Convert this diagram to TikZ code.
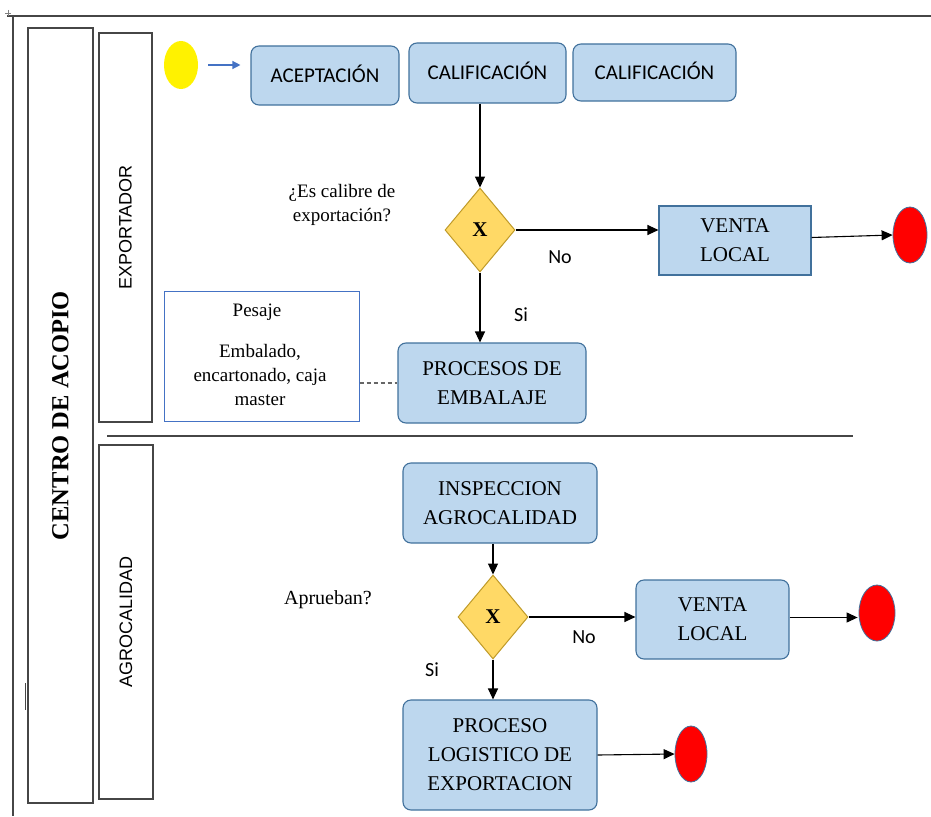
\documentclass[tikz,border=0pt]{standalone}
\usepackage{fontspec}
\setmainfont{Liberation Serif}
\newfontfamily\calibrifont{Carlito}
\newfontfamily\arialfont{Liberation Sans}
\usetikzlibrary{shapes.geometric,arrows.meta}
\definecolor{boxfill}{RGB}{189,215,238}
\definecolor{boxline}{RGB}{65,113,156}
\definecolor{dfill}{RGB}{255,217,102}
\definecolor{dline}{RGB}{191,154,40}
\definecolor{notel}{RGB}{68,114,196}
\definecolor{framel}{RGB}{70,70,70}
\tikzset{
  x={(1pt,0)}, y={(0,-1pt)},
  lane/.style={draw=framel, line width=1.2pt, rotate=90, inner sep=0pt, align=center},
  proc/.style={draw=boxline, fill=boxfill, line width=1.1pt, rounded corners=8pt, align=center, inner sep=0pt},
  plain/.style={draw=boxline, fill=boxfill, line width=1.1pt, align=center, inner sep=0pt},
  gate/.style={diamond, draw=dline, fill=dfill, line width=1pt, inner sep=0pt, font=\fontsize{21}{22}\selectfont\bfseries},
  endev/.style={ellipse, draw=boxline, fill=red, line width=0.8pt, inner sep=0pt},
  flow/.style={draw=black, line width=1.1pt, -{Triangle[length=11pt,width=10pt]}},
  serifbig/.style={font=\fontsize{21}{29}\selectfont},
  serifmid/.style={font=\fontsize{19}{24}\selectfont, align=center},
  sansbox/.style={font=\calibrifont\fontsize{21}{24}\selectfont},
  sanslbl/.style={font=\calibrifont\fontsize{20}{22}\selectfont},
}
\begin{document}
\begin{tikzpicture}
\useasboundingbox (0,0) rectangle (931,816);
% page frame lines
\draw[framel, line width=1.5pt] (7,16) -- (931,16);
\draw[framel, line width=1.2pt] (13,16) -- (13,816);
\draw[gray, line width=0.6pt] (8,10) -- (8,16) (5,13) -- (11,13);
\draw[framel, line width=1pt] (25,683) -- (25,710);
% lanes
\node[lane, minimum width=775pt, minimum height=65pt, font=\fontsize{24.5}{26}\selectfont\bfseries] (centro) at (60.5,415.5) {CENTRO DE ACOPIO};
\node[lane, minimum width=389pt, minimum height=53pt, font=\arialfont\fontsize{18}{20}\selectfont] (expo) at (125.5,227.5) {EXPORTADOR};
\node[lane, minimum width=354pt, minimum height=54pt, font=\arialfont\fontsize{18}{20}\selectfont] (agro) at (126,622) {AGROCALIDAD};
\draw[framel, line width=1.2pt] (107,436) -- (853,436);
% top row
\node[ellipse, fill=yellow, minimum width=34pt, minimum height=48pt, inner sep=0pt] (start) at (181,65) {};
\node[proc, sansbox, minimum width=148pt, minimum height=59pt] (acept) at (325,75.5) {\raisebox{3pt}{ACEPTACIÓN}};
\node[proc, sansbox, minimum width=157pt, minimum height=60pt] (calif1) at (487.5,73) {\raisebox{5pt}{CALIFICACIÓN}};
\node[proc, sansbox, minimum width=163pt, minimum height=57pt] (calif2) at (654.5,72.5) {\raisebox{4pt}{CALIFICACIÓN}};
% exportador lane
\node[serifmid] (q1) at (342,205) {¿Es calibre de\\exportación?};
\node[gate, minimum width=70pt, minimum height=84pt] (d1) at (480,230) {X};
\node[plain, serifbig, minimum width=152pt, minimum height=69pt] (vl1) at (735,240.5) {VENTA\\LOCAL};
\node[endev, minimum width=34pt, minimum height=56pt] (end1) at (910,235) {};
\node[proc, serifbig, minimum width=188pt, minimum height=80pt] (proc) at (492,383) {PROCESOS DE\\EMBALAJE};
\node[draw=notel, line width=1pt, minimum width=195pt, minimum height=130pt, inner sep=0pt] (note) at (261.5,356) {};
\node[serifmid] (pesaje) at (257,312) {Pesaje};
\node[serifmid] (emb) at (260,375) {Embalado,\\encartonado, caja\\master};
\node[sanslbl] (no1) at (560,257) {No};
\node[sanslbl] (si1) at (521,315) {Si};
% agrocalidad lane
\node[proc, serifbig, minimum width=194pt, minimum height=80pt] (insp) at (500,503) {INSPECCION\\AGROCALIDAD};
\node[serifmid, font=\fontsize{20}{24}\selectfont] (q2) at (328,600) {Aprueban?};
\node[gate, minimum width=70pt, minimum height=84pt] (d2) at (493,617) {X};
\node[proc, serifbig, minimum width=153pt, minimum height=79pt] (vl2) at (712.5,619.5) {VENTA\\LOCAL};
\node[endev, minimum width=36pt, minimum height=56pt] (end2) at (877,613) {};
\node[proc, serifbig, minimum width=194pt, minimum height=110pt] (ple) at (500,755) {PROCESO\\LOGISTICO DE\\EXPORTACION};
\node[endev, minimum width=32pt, minimum height=56pt] (end3) at (691,754) {};
\node[sanslbl] (no2) at (584,637) {No};
\node[sanslbl] (si2) at (432,670) {Si};
% connectors
\coordinate (v1e) at ([yshift=3pt]vl1.east);
\coordinate (v2e) at ([yshift=2pt]vl2.east);
\draw[notel, line width=1.3pt, -{Triangle[length=8pt,width=8pt]}] ([xshift=10pt]start.east) -- ([xshift=-10pt]acept.west |- start.east);
\draw[flow] (d1.north |- calif1.south) -- (d1.north);
\draw[flow] (d1.east) -- (vl1.west |- d1.east);
\draw[flow] (v1e) -- (end1.west);
\draw[flow] (d1.south) -- (d1.south |- proc.north);
\draw[gray!80!black, line width=1.1pt, dashed, dash pattern=on 4pt off 3pt] (note.east |- proc.west) -- (proc.west);
\draw[flow] (d2.north |- insp.south) -- (d2.north);
\draw[flow] (d2.east) -- (vl2.west |- d2.east);
\draw[flow] (v2e) -- ([xshift=-1pt]end2.west |- v2e);
\draw[flow] (d2.south) -- (d2.south |- ple.north);
\draw[flow] (ple.east) -- (end3.west);
\end{tikzpicture}
\end{document}
